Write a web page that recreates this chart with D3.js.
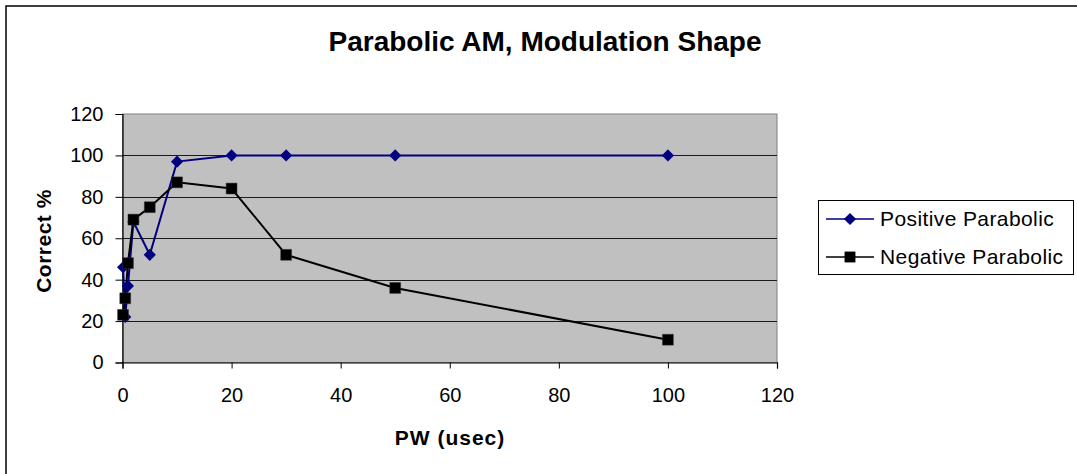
<!DOCTYPE html>
<html>
<head>
<meta charset="utf-8">
<script src="https://cdn.jsdelivr.net/npm/d3@7"></script>
<style>
  body { margin: 0; background: #fff; overflow: hidden; }
  svg { display: block; }
  text { font-family: "Liberation Sans", Arial, sans-serif; fill: #000; }
</style>
</head>
<body>
<svg id="chart" width="1077" height="474"></svg>
<script>
// pulse width (usec) and percent correct for each modulation shape
var pwValues = [0.1, 0.5, 1, 2, 5, 10, 20, 30, 50, 100];
var positiveValues = [46, 22, 37, 68, 52, 97, 100, 100, 100, 100];
var negativeValues = [23, 31, 48, 69, 75, 87, 84, 52, 36, 11];
var xTicks = [0, 20, 40, 60, 80, 100, 120];
var yTicks = [0, 20, 40, 60, 80, 100, 120];
var seriesNames = ["Positive Parabolic", "Negative Parabolic"];

function drawChart() {
    var svg = d3.select("#chart");

    var plotLeft = 122.5, plotRight = 777, plotTop = 114, plotBottom = 362.5;

    var x = d3.scaleLinear().domain([0, 120]).range([plotLeft, plotRight]);
    var y = d3.scaleLinear().domain([0, 120]).range([plotBottom, plotTop]);

    // outer chart frame: only the left and top edges fall inside the picture
    svg.append("path")
        .attr("d", "M6,480 L6,6 L1090,6")
        .attr("fill", "none")
        .attr("stroke", "#000").attr("stroke-width", 1.5);

    // plot area
    svg.append("rect")
        .attr("x", plotLeft).attr("y", plotTop)
        .attr("width", plotRight - plotLeft).attr("height", plotBottom - plotTop)
        .attr("fill", "#c0c0c0")
        .attr("stroke", "#808080").attr("stroke-width", 1);

    // gridlines
    svg.append("g")
        .selectAll("line")
        .data(yTicks.filter(function(d) { return d > 0 && d < 120; }))
        .enter()
        .append("line")
        .attr("x1", plotLeft).attr("x2", plotRight)
        .attr("y1", function(d) { return Math.round(y(d)) + 0.5; })
        .attr("y2", function(d) { return Math.round(y(d)) + 0.5; })
        .style("stroke", "#1a1a1a")
        .style("stroke-width", 1);

    // axes
    var xAxis = svg.append("g")
        .attr("transform", "translate(0," + plotBottom + ")")
        .call(d3.axisBottom(x).tickValues(xTicks).tickSize(6).tickPadding(19));
    var yAxis = svg.append("g")
        .attr("transform", "translate(" + plotLeft + ",0)")
        .call(d3.axisLeft(y).tickValues(yTicks).tickSize(7).tickPadding(12));

    [xAxis, yAxis].forEach(function(a) {
        a.select(".domain").attr("stroke", "#000").attr("stroke-width", 1.2);
        a.selectAll(".tick line").attr("stroke", "#000");
        a.selectAll(".tick text")
            .style("font-size", "20px")
            .style("font-family", "'Liberation Sans', Arial, sans-serif");
    });

    // titles
    svg.append("text")
        .attr("x", 545).attr("y", 51)
        .attr("text-anchor", "middle")
        .style("font-size", "28px").style("font-weight", "bold")
        .text("Parabolic AM, Modulation Shape");

    svg.append("text")
        .attr("x", 450).attr("y", 445)
        .attr("text-anchor", "middle")
        .style("font-size", "21px").style("font-weight", "bold")
        .style("letter-spacing", "1px")
        .text("PW (usec)");

    svg.append("text")
        .attr("transform", "translate(51,241) rotate(-90)")
        .attr("text-anchor", "middle")
        .style("font-size", "21px").style("font-weight", "bold")
        .style("letter-spacing", "0.5px")
        .text("Correct %");

    // series
    var posData = pwValues.map(function(p, i) { return [p, positiveValues[i]]; });
    var negData = pwValues.map(function(p, i) { return [p, negativeValues[i]]; });

    var line = d3.line()
        .x(function(d) { return x(d[0]); })
        .y(function(d) { return y(d[1]); });

    // diamond = square turned 45 degrees
    var diamond = d3.symbol().type(d3.symbolSquare).size(74);
    var square = d3.symbol().type(d3.symbolSquare).size(118);

    svg.append("path").datum(posData)
        .attr("d", line)
        .attr("fill", "none").attr("stroke", "#000080").attr("stroke-width", 2);

    svg.append("path").datum(negData)
        .attr("d", line)
        .attr("fill", "none").attr("stroke", "#000").attr("stroke-width", 2);

    svg.append("g").selectAll("path")
        .data(posData).enter().append("path")
        .attr("d", diamond)
        .attr("transform", function(d) { return "translate(" + x(d[0]) + "," + y(d[1]) + ") rotate(45)"; })
        .attr("fill", "#000080");

    svg.append("g").selectAll("path")
        .data(negData).enter().append("path")
        .attr("d", square)
        .attr("transform", function(d) { return "translate(" + x(d[0]) + "," + y(d[1]) + ")"; })
        .attr("fill", "#000").attr("stroke", "#333").attr("stroke-width", 0.5);

    // legend
    var legend = svg.append("g");
    legend.append("rect")
        .attr("x", 818.5).attr("y", 200.5)
        .attr("width", 255).attr("height", 74)
        .attr("fill", "#fff").attr("stroke", "#000").attr("stroke-width", 1);

    var items = legend.selectAll("g.item")
        .data(seriesNames).enter().append("g")
        .attr("transform", function(d, i) { return "translate(0," + (219 + i * 38) + ")"; });

    items.append("line")
        .attr("x1", 826).attr("x2", 874)
        .attr("stroke", function(d, i) { return i === 0 ? "#000080" : "#000"; })
        .attr("stroke-width", 1.5);

    items.append("path")
        .attr("d", function(d, i) { return i === 0 ? diamond() : square(); })
        .attr("transform", function(d, i) { return i === 0 ? "translate(850,0) rotate(45)" : "translate(850,0)"; })
        .attr("fill", function(d, i) { return i === 0 ? "#000080" : "#000"; });

    items.append("text")
        .attr("x", 880).attr("dy", "0.35em")
        .style("font-size", "21px")
        .style("letter-spacing", "0.4px")
        .text(function(d) { return d; });
}

drawChart();
</script>
</body>
</html>
